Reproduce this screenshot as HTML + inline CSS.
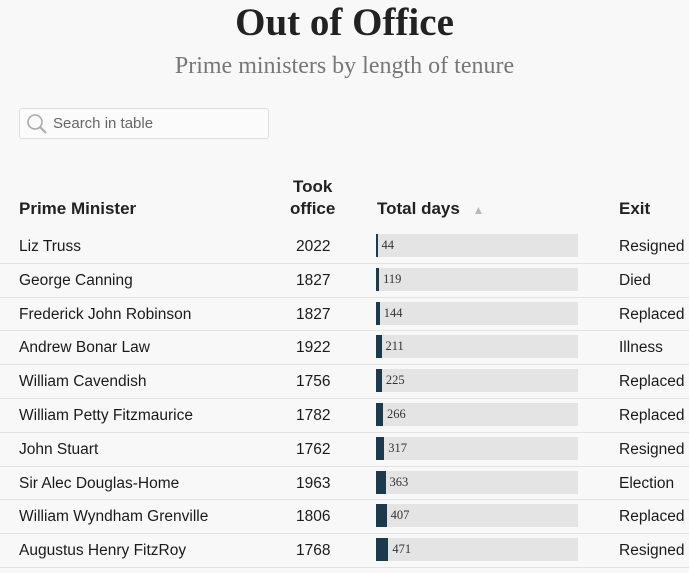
<!DOCTYPE html>
<html><head><style>
body{margin:0;background:#f8f8f8;width:689px;height:573px;overflow:hidden;font-family:"Liberation Sans",sans-serif;color:#222}
.t{position:absolute;left:0;width:689px;text-align:center;font-family:"Liberation Serif",serif}
.s{position:absolute;left:19px;top:108px;width:248px;height:29px;border:1px solid #ddd;background:#fbfbfb;border-radius:3px}
.s span{position:absolute;left:33px;top:6px;font-size:15px;color:#666}
.r{position:absolute;left:0;width:689px;height:33.8px;border-bottom:1px solid #e2e2e2;font-size:15.5px;color:#1a1a1a}
.r div{position:absolute;top:9px}
.g{left:376px!important;top:5px!important;width:202px;height:23px;background:#e4e4e4}
.b{position:absolute;left:0;top:0;height:23px;background:#1d3a4c}
.n{position:absolute;left:6px;top:4px;font-size:12.5px;font-family:"Liberation Serif",serif;color:#333}
.h{position:absolute;font-size:17px;font-weight:bold;color:#222}
</style></head><body>
<div class="t" style="top:0;font-size:39px;font-weight:bold;color:#222">Out of Office</div>
<div class="t" style="top:53px;font-size:24px;color:#777">Prime ministers by length of tenure</div>
<div class="s"><svg width="24" height="24" style="position:absolute;left:5px;top:3px"><circle cx="10" cy="10" r="7" fill="none" stroke="#aaa" stroke-width="1.6"/><line x1="15" y1="15" x2="21" y2="21" stroke="#aaa" stroke-width="2"/></svg><span>Search in table</span></div>
<div class="h" style="left:19px;top:199px">Prime Minister</div>
<div class="h" style="left:290px;top:176px;text-align:center;line-height:22px">Took<br>office</div>
<div class="h" style="left:377px;top:199px">Total days <span style="color:#bbb;font-size:12px;margin-left:8px">▲</span></div>
<div class="h" style="left:619px;top:199px">Exit</div>
<div id="rows"></div>
<script>
var d=[["Liz Truss",2022,44,"Resigned"],["George Canning",1827,119,"Died"],["Frederick John Robinson",1827,144,"Replaced"],["Andrew Bonar Law",1922,211,"Illness"],["William Cavendish",1756,225,"Replaced"],["William Petty Fitzmaurice",1782,266,"Replaced"],["John Stuart",1762,317,"Resigned"],["Sir Alec Douglas-Home",1963,363,"Election"],["William Wyndham Grenville",1806,407,"Replaced"],["Augustus Henry FitzRoy",1768,471,"Resigned"]];
var h="";d.forEach(function(r,i){var y=229+i*33.8;var w=Math.max(1.5,r[2]*0.0262);
h+='<div class="r" style="top:'+y+'px"><div style="left:19px">'+r[0]+'</div><div style="left:296px">'+r[1]+'</div><div class="g"><span class="b" style="width:'+w+'px"></span><span class="n" style="left:'+(w+4)+'px">'+r[2]+'</span></div><div style="left:619px">'+r[3]+'</div></div>';});
document.getElementById("rows").innerHTML=h;
</script>
</body></html>
